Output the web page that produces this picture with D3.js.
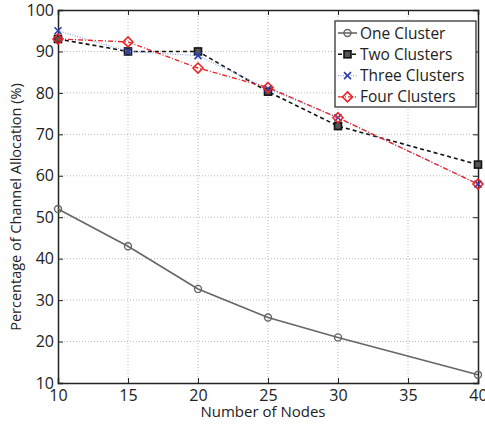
<!DOCTYPE html>
<html>
<head>
<meta charset="utf-8">
<script src="https://cdn.jsdelivr.net/npm/d3@7"></script>
<style>
  body { margin: 0; background: #fff; }
  svg { font-family: "Open Sans", "Noto Sans", sans-serif; }
</style>
</head>
<body>
<div id="chart"></div>
<script>
const nodes = [10, 15, 20, 25, 30, 40];
const oneCluster = [52, 43, 32.7, 25.8, 21, 12];
const twoClusters = [93, 90, 90, 80.3, 72, 62.7];
const threeClusters = [95, 90, 89, 81, 74, 58];
const fourClusters = [93, 92.3, 86, 81.3, 74, 58];
const xTicks = [10, 15, 20, 25, 30, 35, 40];
const yTicks = [10, 20, 30, 40, 50, 60, 70, 80, 90, 100];

const width = 485, height = 424;
const margin = { top: 10, right: 7, bottom: 41, left: 58 };
const w = width - margin.left - margin.right;
const h = height - margin.top - margin.bottom;

const svg = d3.select('#chart').append('svg')
  .attr('width', width).attr('height', height);
const g = svg.append('g').attr('transform', `translate(${margin.left},${margin.top})`);

const x = d3.scaleLinear().domain([10, 40]).range([0, w]);
const y = d3.scaleLinear().domain([10, 100]).range([h, 0]);

// grid
g.append('g').selectAll('line').data(xTicks.slice(1, -1)).enter().append('line')
  .attr('x1', d => x(d)).attr('x2', d => x(d)).attr('y1', 0).attr('y2', h)
  .attr('stroke', '#bbb').attr('stroke-width', 1).attr('stroke-dasharray', '1,2');
g.append('g').selectAll('line').data(yTicks.slice(1, -1)).enter().append('line')
  .attr('y1', d => y(d)).attr('y2', d => y(d)).attr('x1', 0).attr('x2', w)
  .attr('stroke', '#bbb').attr('stroke-width', 1).attr('stroke-dasharray', '1,2');

// axes
const xAxis = g.append('g').attr('transform', `translate(0,${h})`)
  .call(d3.axisBottom(x).tickValues(xTicks).tickSize(-5));
const yAxis = g.append('g')
  .call(d3.axisLeft(y).tickValues(yTicks).tickSize(-5).tickPadding(4));
g.append('g').attr('transform', `translate(${w},0)`)
  .call(d3.axisRight(y).tickValues(yTicks).tickSize(-5).tickFormat(''));
g.append('g')
  .call(d3.axisTop(x).tickValues(xTicks).tickSize(-5).tickFormat(''));
g.selectAll('.domain').attr('stroke', '#222').attr('stroke-width', 1.5);
g.selectAll('.tick line').attr('stroke', '#222');
g.selectAll('.tick text').attr('font-size', 16).attr('fill', '#222')
  .attr('font-family', '"Open Sans", sans-serif');
xAxis.selectAll('.tick text').attr('y', 18).attr('dy', 0);

const series = [
  { name: 'One Cluster', values: oneCluster, color: '#666', dash: null, width: 1.6, marker: 'circle' },
  { name: 'Two Clusters', values: twoClusters, color: '#111', dash: '4,3', width: 1.6, marker: 'square' },
  { name: 'Three Clusters', values: threeClusters, color: '#8fa3e8', dash: '1,1.5', width: 1.2, marker: 'x', mcolor: '#2b3fb0' },
  { name: 'Four Clusters', values: fourClusters, color: '#e8262a', dash: '5,2,1,2', width: 1.4, marker: 'diamond' }
];

const line = d3.line().x(d => x(d[0])).y(d => y(d[1]));

function drawMarker(sel, s, cx, cy) {
  const mc = s.mcolor || s.color;
  if (s.marker === 'circle') {
    sel.append('circle').attr('cx', cx).attr('cy', cy).attr('r', 3.5)
      .attr('fill', 'none').attr('stroke', mc).attr('stroke-width', 1.4);
  } else if (s.marker === 'square') {
    sel.append('rect').attr('x', cx - 3.5).attr('y', cy - 3.5).attr('width', 7).attr('height', 7)
      .attr('fill', '#555').attr('stroke', mc).attr('stroke-width', 1.6);
  } else if (s.marker === 'x') {
    sel.append('path').attr('d', `M${cx-3.5},${cy-3.5}L${cx+3.5},${cy+3.5}M${cx-3.5},${cy+3.5}L${cx+3.5},${cy-3.5}`)
      .attr('stroke', mc).attr('stroke-width', 1.6).attr('fill', 'none');
  } else if (s.marker === 'diamond') {
    sel.append('path').attr('d', `M${cx},${cy-5}L${cx+5},${cy}L${cx},${cy+5}L${cx-5},${cy}Z`)
      .attr('stroke', mc).attr('stroke-width', 1.6).attr('fill', 'none');
  }
}

series.forEach(s => {
  const pts = nodes.map((n, i) => [n, s.values[i]]);
  g.append('path').datum(pts).attr('d', line)
    .attr('fill', 'none').attr('stroke', s.color).attr('stroke-width', s.width)
    .attr('stroke-dasharray', s.dash);
  const mg = g.append('g');
  pts.forEach(p => drawMarker(mg, s, x(p[0]), y(p[1])));
});

// legend
const lg = svg.append('g').attr('transform', 'translate(335,21)');
lg.append('rect').attr('width', 141).attr('height', 86)
  .attr('fill', '#fff').attr('stroke', '#222').attr('stroke-width', 1.2);
series.forEach((s, i) => {
  const ly = 12 + i * 21.3;
  lg.append('line').attr('x1', 3).attr('x2', 22).attr('y1', ly).attr('y2', ly)
    .attr('stroke', s.color).attr('stroke-width', s.width).attr('stroke-dasharray', s.dash);
  drawMarker(lg, s, 12.5, ly);
  lg.append('text').attr('x', 25).attr('y', ly).attr('dy', '0.36em')
    .attr('font-size', 15.5).attr('fill', '#222').text(s.name);
});

// axis labels
svg.append('text').attr('x', 263).attr('y', 417)
  .attr('text-anchor', 'middle').attr('font-size', 15).attr('fill', '#222')
  .text('Number of Nodes');
svg.append('text').attr('transform', 'translate(21,207) rotate(-90)')
  .attr('text-anchor', 'middle').attr('font-size', 14.5).attr('fill', '#222')
  .text('Percentage of Channel Allocation (%)');
</script>
</body>
</html>
